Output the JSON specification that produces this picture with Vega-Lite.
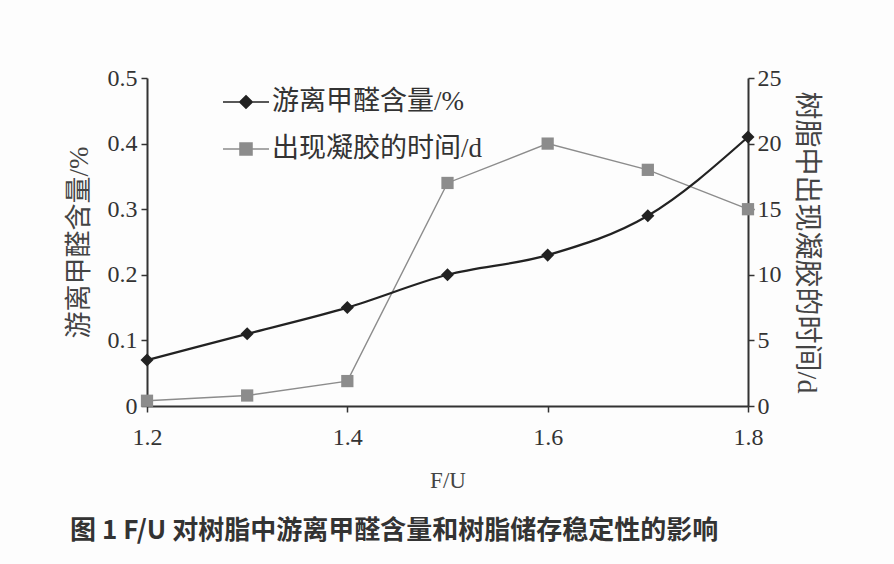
{
  "$schema": "https://vega.github.io/schema/vega-lite/v6.json",
  "width": 601,
  "height": 328,
  "autosize": {"type": "none"},
  "padding": {"left": 147, "top": 78, "right": 146, "bottom": 158},
  "background": "#fdfdfd",
  "config": {
    "view": {"stroke": null},
    "axis": {
      "grid": false,
      "domainColor": "#333",
      "domainWidth": 2,
      "tickColor": "#333",
      "tickWidth": 1.5,
      "tickSize": 6,
      "labelFont": "Liberation Serif",
      "labelFontSize": 24,
      "labelColor": "#333",
      "titleFont": "Liberation Serif, Noto Sans CJK SC",
      "titleFontSize": 26,
      "titleFontWeight": "normal",
      "titleColor": "#444"
    }
  },
  "title": {
    "text": "图 1  F/U 对树脂中游离甲醛含量和树脂储存稳定性的影响",
    "orient": "bottom",
    "anchor": "start",
    "frame": "group",
    "dx": -77,
    "offset": 26,
    "font": "Noto Sans CJK SC",
    "fontSize": 26,
    "fontWeight": "bold",
    "color": "#333"
  },
  "data": {
    "values": [
      {"fu": 1.2, "series": "游离甲醛含量/%", "value": 0.07},
      {"fu": 1.3, "series": "游离甲醛含量/%", "value": 0.11},
      {"fu": 1.4, "series": "游离甲醛含量/%", "value": 0.15},
      {"fu": 1.5, "series": "游离甲醛含量/%", "value": 0.2},
      {"fu": 1.6, "series": "游离甲醛含量/%", "value": 0.23},
      {"fu": 1.7, "series": "游离甲醛含量/%", "value": 0.29},
      {"fu": 1.8, "series": "游离甲醛含量/%", "value": 0.41},
      {"fu": 1.2, "series": "出现凝胶的时间/d", "value": 0.4},
      {"fu": 1.3, "series": "出现凝胶的时间/d", "value": 0.8},
      {"fu": 1.4, "series": "出现凝胶的时间/d", "value": 1.9},
      {"fu": 1.5, "series": "出现凝胶的时间/d", "value": 17},
      {"fu": 1.6, "series": "出现凝胶的时间/d", "value": 20},
      {"fu": 1.7, "series": "出现凝胶的时间/d", "value": 18},
      {"fu": 1.8, "series": "出现凝胶的时间/d", "value": 15}
    ]
  },
  "encoding": {
    "x": {
      "field": "fu",
      "type": "quantitative",
      "title": "F/U",
      "scale": {"domain": [1.2, 1.8], "nice": false, "zero": false},
      "axis": {
        "values": [1.2, 1.4, 1.6, 1.8],
        "format": ".1f",
        "labelPadding": 13,
        "titlePadding": 20,
        "titleFont": "Liberation Serif",
        "titleFontSize": 23,
        "labelFlush": false
      }
    }
  },
  "layer": [
    {
      "transform": [{"filter": "datum.series === '出现凝胶的时间/d'"}],
      "layer": [
        {
          "mark": {"type": "line", "strokeWidth": 1.4},
          "encoding": {
            "y": {
              "field": "value",
              "type": "quantitative",
              "title": "树脂中出现凝胶的时间/d",
              "scale": {"domain": [0, 25], "nice": false},
              "axis": {
                "orient": "right",
                "values": [0, 5, 10, 15, 20, 25],
                "labelPadding": 3,
                "titlePadding": 10,
                "titleFontSize": 28
              }
            },
            "color": {
              "field": "series",
              "type": "nominal",
              "scale": {
                "domain": ["游离甲醛含量/%", "出现凝胶的时间/d"],
                "range": ["#222222", "#8c8c8c"]
              },
              "legend": {
                "orient": "none",
                "legendX": 75,
                "legendY": 0,
                "title": null,
                "labelFont": "Liberation Serif, Noto Sans CJK SC",
                "labelFontSize": 27,
                "labelLimit": 400,
                "labelColor": "#333",
                "symbolSize": 2116,
                "symbolStrokeWidth": 1.6,
                "rowPadding": 10,
                "labelOffset": 2,
                "encode": {
                  "symbols": {
                    "update": {
                      "shape": {"signal": "datum.value === '游离甲醛含量/%' ? 'M-1,0H1M0,-0.27L0.27,0L0,0.27L-0.27,0Z' : 'M-1,0H1M-0.26,-0.26H0.26V0.26H-0.26Z'"},
                      "fill": {"signal": "datum.value === '游离甲醛含量/%' ? '#222222' : '#8c8c8c'"},
                      "stroke": {"signal": "datum.value === '游离甲醛含量/%' ? '#222222' : '#8c8c8c'"}
                    }
                  }
                }
              }
            }
          }
        },
        {
          "mark": {"type": "point", "shape": "square", "filled": true, "size": 150, "color": "#8c8c8c", "opacity": 1},
          "encoding": {
            "y": {"field": "value", "type": "quantitative"}
          }
        }
      ]
    },
    {
      "transform": [{"filter": "datum.series === '游离甲醛含量/%'"}],
      "layer": [
        {
          "mark": {"type": "line", "strokeWidth": 2.2, "interpolate": "monotone"},
          "encoding": {
            "y": {
              "field": "value",
              "type": "quantitative",
              "title": "游离甲醛含量/%",
              "scale": {"domain": [0, 0.5], "nice": false},
              "axis": {
                "orient": "left",
                "values": [0, 0.1, 0.2, 0.3, 0.4, 0.5],
                "format": "~g",
                "labelPadding": 4,
                "titlePadding": 14,
                "titleFontSize": 27
              }
            },
            "color": {"field": "series", "type": "nominal"}
          }
        },
        {
          "mark": {"type": "point", "shape": "diamond", "filled": true, "size": 170, "color": "#222222", "opacity": 1},
          "encoding": {
            "y": {"field": "value", "type": "quantitative"}
          }
        }
      ]
    }
  ],
  "resolve": {"scale": {"y": "independent"}}
}
